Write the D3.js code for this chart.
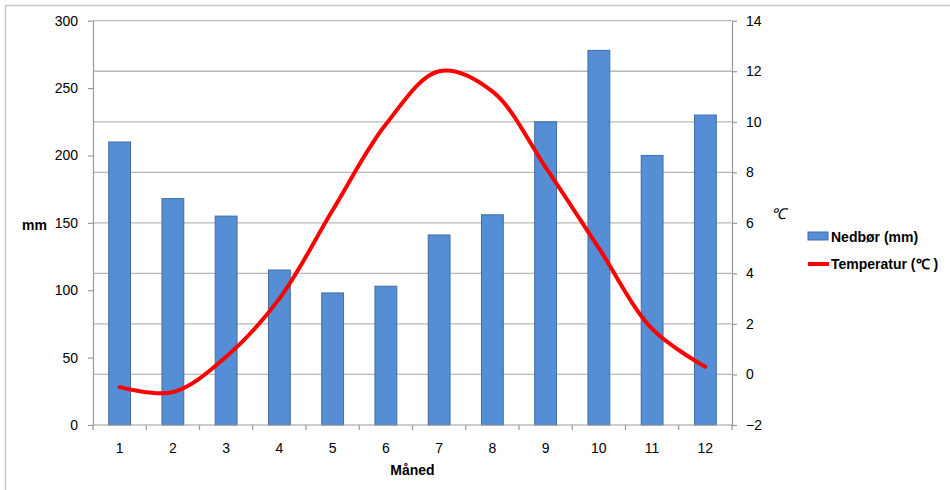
<!DOCTYPE html>
<html>
<head>
<meta charset="utf-8">
<script src="https://cdn.jsdelivr.net/npm/d3@7"></script>
<style>
  body { margin: 0; background: #fff; }
  text { font-family: "Liberation Sans", Arial, sans-serif; fill: #000; }
</style>
</head>
<body>
<svg id="chart"></svg>
<script>
// months, rainfall (mm) and temperature (°C)
const months = [1, 2, 3, 4, 5, 6, 7, 8, 9, 10, 11, 12];
const nedbor = [210, 168, 155, 115, 98, 103, 141, 156, 225, 278, 200, 230];
const temperatur = [-0.5, -0.7, 0.7, 3.0, 6.5, 9.9, 12.0, 11.2, 8.2, 5.0, 1.8, 0.3];
const mmTicks = [0, 50, 100, 150, 200, 250, 300];
const tempTicks = [-2, 0, 2, 4, 6, 8, 10, 12, 14];

const svg_width = 950, svg_height = 490;
const margin = {top: 20.7, right: 218, bottom: 65, left: 93},
      width = svg_width - margin.left - margin.right,
      height = svg_height - margin.top - margin.bottom;

const svg = d3.select("#chart")
  .attr("width", svg_width)
  .attr("height", svg_height);

// outer frame (only top and left visible in the picture)
svg.append("rect")
  .attr("x", 5.5).attr("y", 5.5)
  .attr("width", 1000).attr("height", 1000)
  .style("fill", "none")
  .style("stroke", "#c8c8c8")
  .style("stroke-width", 1.5);

const chart = svg.append("g")
  .attr("transform", "translate(" + margin.left + "," + margin.top + ")");

const xScale = d3.scaleBand()
  .domain(months)
  .range([0, width])
  .paddingInner(0.59)
  .paddingOuter(0.295);

const yScale = d3.scaleLinear().domain([0, 300]).range([height, 0]);
const tScale = d3.scaleLinear().domain([-2, 14]).range([height, 0]);

// horizontal grid lines follow the temperature axis
chart.append("g")
  .selectAll("line")
  .data(tempTicks.slice(1))
  .enter()
  .append("line")
    .attr("x1", 0).attr("x2", width)
    .attr("y1", d => tScale(d)).attr("y2", d => tScale(d))
    .style("stroke", "#b9b9b9")
    .style("stroke-width", 1.3);

// left axis
const yAxis = d3.axisLeft(yScale).tickValues(mmTicks).tickSizeOuter(0).tickSizeInner(5).tickPadding(10);
const gy = chart.append("g").call(yAxis);
gy.selectAll("line,path").style("stroke", "#9a9a9a").style("stroke-width", 1.2);
gy.selectAll("text").style("font-size", "14px").attr("font-family", null);

// right axis
const tAxis = d3.axisRight(tScale).tickValues(tempTicks).tickSizeOuter(0).tickSizeInner(5).tickPadding(9);
const gt = chart.append("g").attr("transform", "translate(" + width + ",0)").call(tAxis);
gt.selectAll("line,path").style("stroke", "#9a9a9a").style("stroke-width", 1.2);
gt.selectAll("text").style("font-size", "14px").attr("font-family", null);

// bars
chart.append("g")
  .selectAll("rect")
  .data(months)
  .enter()
  .append("rect")
    .attr("x", d => xScale(d))
    .attr("y", (d, i) => yScale(nedbor[i]))
    .attr("width", xScale.bandwidth())
    .attr("height", (d, i) => height - yScale(nedbor[i]))
    .style("fill", "#558ed5")
    .style("stroke", "#3f6ea8")
    .style("stroke-width", 1);

// x axis with ticks at category boundaries
const xLine = d3.scaleLinear().domain([0, 12]).range([0, width]);
const gx = chart.append("g").attr("transform", "translate(0," + height + ")");
gx.append("line")
  .attr("x1", 0).attr("x2", width)
  .style("stroke", "#9a9a9a").style("stroke-width", 1.2);
gx.selectAll(".tk")
  .data(d3.range(0, 13))
  .enter()
  .append("line")
    .attr("x1", d => xLine(d)).attr("x2", d => xLine(d))
    .attr("y1", 0).attr("y2", 5)
    .style("stroke", "#9a9a9a").style("stroke-width", 1.2);
gx.selectAll(".lbl")
  .data(months)
  .enter()
  .append("text")
    .attr("x", d => xScale(d) + xScale.bandwidth() / 2)
    .attr("y", 28)
    .style("font-size", "14px")
    .style("text-anchor", "middle")
    .text(d => d);

// temperature line
const line = d3.line()
  .x((d, i) => xScale(months[i]) + xScale.bandwidth() / 2)
  .y(d => tScale(d))
  .curve(d3.curveCatmullRom.alpha(0.5));

chart.append("path")
  .datum(temperatur)
  .attr("d", line)
  .style("fill", "none")
  .style("stroke", "#ff0000")
  .style("stroke-width", 4)
  .style("stroke-linecap", "round");

// axis titles
chart.append("text")
  .attr("x", width / 2).attr("y", height + 50)
  .style("font-size", "14px").style("font-weight", "bold")
  .style("text-anchor", "middle")
  .text("Måned");

svg.append("text")
  .attr("x", 22).attr("y", 230)
  .style("font-size", "14px").style("font-weight", "bold")
  .text("mm");

svg.append("text")
  .attr("x", 771).attr("y", 219)
  .style("font-size", "15px").style("font-style", "italic")
  .text("℃");

// legend
const legend = svg.append("g").attr("transform", "translate(808,0)");
legend.append("rect")
  .attr("x", 0).attr("y", 232).attr("width", 20).attr("height", 8)
  .style("fill", "#558ed5").style("stroke", "#3f6ea8").style("stroke-width", 1);
legend.append("text")
  .attr("x", 23).attr("y", 241.5)
  .style("font-size", "14px").style("font-weight", "bold")
  .text("Nedbør (mm)");
legend.append("line")
  .attr("x1", 0).attr("x2", 21).attr("y1", 264).attr("y2", 264)
  .style("stroke", "#ff0000").style("stroke-width", 4);
legend.append("text")
  .attr("x", 23).attr("y", 269)
  .style("font-size", "14px").style("font-weight", "bold")
  .text("Temperatur (℃ )");
</script>
</body>
</html>
